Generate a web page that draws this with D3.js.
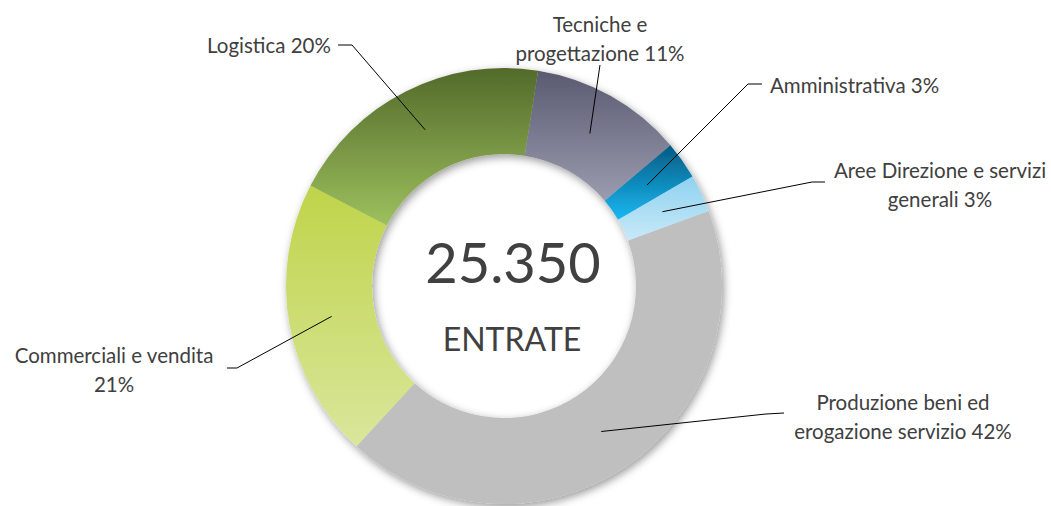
<!DOCTYPE html>
<html>
<head>
<meta charset="utf-8">
<script src="https://cdn.jsdelivr.net/npm/d3@7"></script>
<style>
  body { margin: 0; background: #fff; }
  text { font-family: Lato, "Open Sans", sans-serif; fill: #404040; }
</style>
</head>
<body>
<div id="chart"></div>
<script>
// dati: figure professionali in entrata
const categories = [
  ["Tecniche e", "progettazione"],
  ["Amministrativa"],
  ["Aree Direzione e servizi", "generali"],
  ["Produzione beni ed", "erogazione servizio"],
  ["Commerciali e vendita"],
  ["Logistica"],
];
const values = [2870, 710, 710, 10750, 5270, 5040];
const totalLabel = "25.350";
const subLabel = "ENTRATE";

// colori (alto -> basso della fetta)
const colorsTop = ["#595970", "#035a82", "#8fd2f0", "#bfbfbf", "#bfd449", "#526a2a"];
const colorsBottom = ["#9c9cb0", "#1ab8f2", "#c8e9f8", "#bfbfbf", "#dae69c", "#9dc05e"];

const width = 1051;
const height = 506;
const cx = 504;
const cy = 286;
const outerR = 218;
const innerR = 132;
const startDeg = 9;

// posizione etichette: punto di attacco della linea, x del testo, baseline prima riga, allineamento
const labelLayout = [
  { anchor: [600, 65], tick: null, tx: 600, ty: 32, align: "middle" },
  { anchor: [762, 84], tick: [748, 84], tx: 770, ty: 93, align: "start" },
  { anchor: [825, 182], tick: [812, 182], tx: 940, ty: 178, align: "middle" },
  { anchor: [784, 413], tick: [766, 414], tx: 903, ty: 410, align: "middle" },
  { anchor: [227, 368], tick: [237, 368], tx: 114, ty: 363, align: "middle" },
  { anchor: [338, 45], tick: [352, 45], tx: 269, ty: 53, align: "middle" },
];
const lineGap = 29;

const svg = d3
  .select("#chart")
  .append("svg")
  .attr("width", width)
  .attr("height", height);

const defs = svg.append("defs");

const shadow = defs
  .append("filter")
  .attr("id", "shadow")
  .attr("x", "-20%")
  .attr("y", "-20%")
  .attr("width", "140%")
  .attr("height", "140%");
shadow
  .append("feDropShadow")
  .attr("dx", 2)
  .attr("dy", 3)
  .attr("stdDeviation", 4)
  .attr("flood-color", "#000")
  .attr("flood-opacity", 0.4);

values.forEach((v, i) => {
  const g = defs
    .append("linearGradient")
    .attr("id", `grad${i}`)
    .attr("x1", 0)
    .attr("y1", 0)
    .attr("x2", 0)
    .attr("y2", 1);
  g.append("stop").attr("offset", "0%").attr("stop-color", colorsTop[i]);
  g.append("stop").attr("offset", "100%").attr("stop-color", colorsBottom[i]);
});

const total = d3.sum(values);

const pie = d3
  .pie()
  .sort(null)
  .value((d) => d)
  .startAngle((startDeg * Math.PI) / 180)
  .endAngle((startDeg * Math.PI) / 180 + 2 * Math.PI);

const arc = d3.arc().innerRadius(innerR).outerRadius(outerR);

const arcs = pie(values);

const ring = svg
  .append("g")
  .attr("transform", `translate(${cx}, ${cy})`)
  .attr("filter", "url(#shadow)");

ring
  .selectAll("path")
  .data(arcs)
  .enter()
  .append("path")
  .attr("d", arc)
  .attr("fill", (d, i) => `url(#grad${i})`);

// linee guida
const labels = svg.append("g");

arcs.forEach((d, i) => {
  const lay = labelLayout[i];
  const [mx, my] = arc.centroid(d);
  const pts = [lay.anchor];
  if (lay.tick) pts.push(lay.tick);
  pts.push([cx + mx, cy + my]);

  labels
    .append("path")
    .attr("d", d3.line()(pts))
    .attr("fill", "none")
    .attr("stroke", "#000")
    .attr("stroke-width", 1);

  const pct = Math.round((values[i] / total) * 100) + "%";
  const lines = categories[i].slice();
  if (lines.length === 1 && i === 4) {
    lines.push(pct);
  } else {
    lines[lines.length - 1] += " " + pct;
  }

  const t = labels
    .append("text")
    .attr("text-anchor", lay.align)
    .style("font-size", "20.5px");
  lines.forEach((l, k) => {
    t.append("tspan")
      .attr("x", lay.tx)
      .attr("y", lay.ty + k * lineGap)
      .text(l);
  });
});

// testo centrale
svg
  .append("text")
  .attr("x", cx + 9)
  .attr("y", 283)
  .attr("text-anchor", "middle")
  .style("font-size", "56px")
  .text(totalLabel);

svg
  .append("text")
  .attr("x", cx + 8)
  .attr("y", 351)
  .attr("text-anchor", "middle")
  .style("font-size", "32px")
  .text(subLabel);
</script>
</body>
</html>
